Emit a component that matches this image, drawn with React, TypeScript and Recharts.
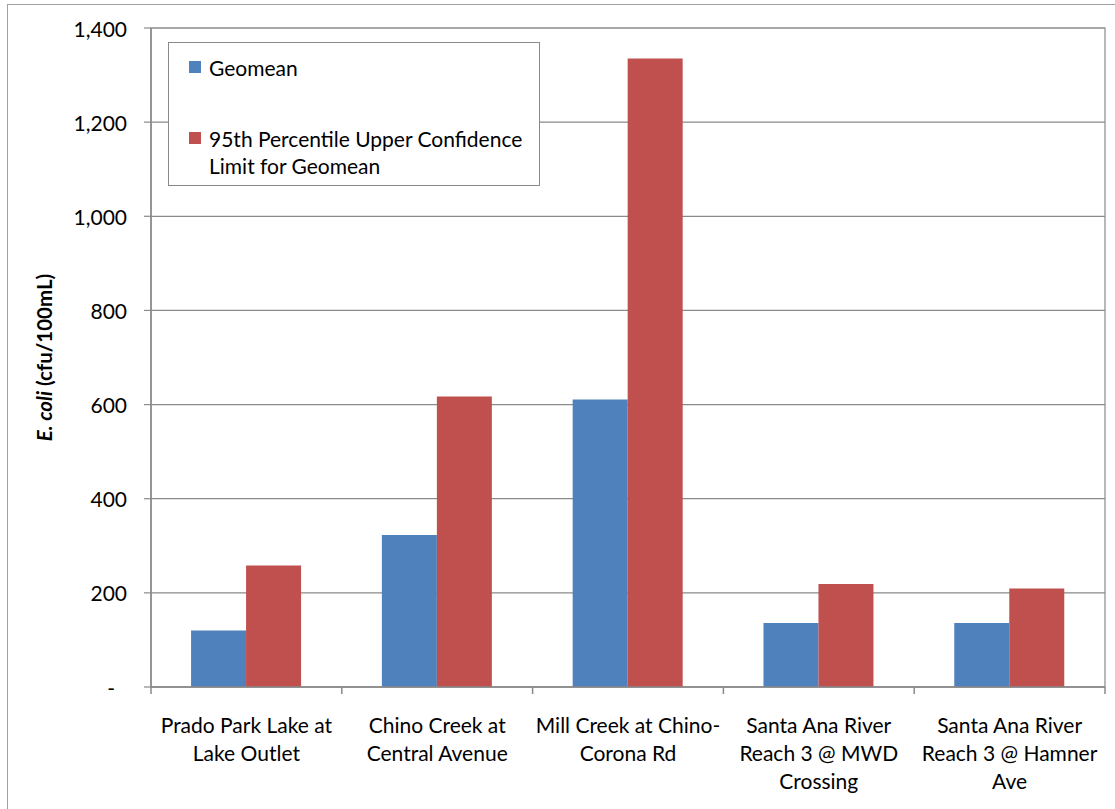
import React from 'react'
import { BarChart, Bar, XAxis, YAxis, CartesianGrid, Legend, ReferenceArea } from 'recharts'

const categories = [
  'Prado Park Lake at Lake Outlet',
  'Chino Creek at Central Avenue',
  'Mill Creek at Chino-Corona Rd',
  'Santa Ana River Reach 3 @ MWD Crossing',
  'Santa Ana River Reach 3 @ Hamner Ave',
]
// how the category labels wrap under the axis
const categoryLines = [
  ['Prado Park Lake at', 'Lake Outlet'],
  ['Chino Creek at', 'Central Avenue'],
  ['Mill Creek at Chino-', 'Corona Rd'],
  ['Santa Ana River', 'Reach 3 @ MWD', 'Crossing'],
  ['Santa Ana River', 'Reach 3 @ Hamner', 'Ave'],
]
const geomean = [120, 323, 611, 136, 136]
const ucl = [258, 617, 1335, 219, 209]
const yTicks = [0, 200, 400, 600, 800, 1000, 1200, 1400]
const seriesNames = ['Geomean', '95th Percentile Upper Confidence Limit for Geomean']
const legendLines = [['Geomean'], ['95th Percentile Upper Confidence', 'Limit for Geomean']]

const data = categories.map((c, i) => ({ name: c, geo: geomean[i], ucl: ucl[i] }))

const W = 1115
const H = 809
const FONT = 'Lato, "Open Sans", sans-serif'
const FS = 21
const GRAY = '#8a8a8a'
const BLUE = '#4F81BD'
const RED = '#C0504D'

const YTick = (props: any) => {
  const { x, y, payload } = props
  const v = payload.value
  return (
    <text x={v === 0 ? x - 12 : x} y={y} textAnchor="end" dominantBaseline="central"
      fontFamily={FONT} fontSize={FS} fill="#000">
      {v === 0 ? '-' : v.toLocaleString('en-US')}
    </text>
  )
}

const CatTick = (props: any) => {
  const { x, y, index, width, visibleTicksCount } = props
  const n = visibleTicksCount || categories.length
  const band = (width || (W - 161)) / n
  const lines = categoryLines[index] || []
  return (
    <g>
      <line x1={x - band / 2} x2={x - band / 2} y1={y - 7} y2={y} stroke={GRAY} strokeWidth={1.5} />
      {index === n - 1 && (
        <line x1={x + band / 2} x2={x + band / 2} y1={y - 7} y2={y} stroke={GRAY} strokeWidth={1.5} />
      )}
      {lines.map((l, i) => (
        <text key={i} x={x} y={y + 30 + i * 28} textAnchor="middle" dominantBaseline="central"
          fontFamily={FONT} fontSize={FS} fill="#000">{l}</text>
      ))}
    </g>
  )
}

const YLabel = (props: any) => {
  const vb = props.viewBox || { y: 28, height: 659 }
  const cy = vb.y + vb.height / 2
  const cx = 44
  return (
    <text x={cx} y={cy} transform={`rotate(-90, ${cx}, ${cy})`} textAnchor="middle"
      dominantBaseline="central" fontFamily={FONT} fontSize={20.5} fontWeight="bold" fill="#000">
      <tspan fontStyle="italic">E. coli</tspan> (cfu/100mL)
    </text>
  )
}

const LegendBox = (props: any) => {
  const items = [...(props.payload || [])].sort(
    (a: any, b: any) => seriesNames.indexOf(a.value) - seriesNames.indexOf(b.value))
  const tops = [10.5, 81.5]
  return (
    <div style={{
      position: 'relative', width: 372, height: 144, boxSizing: 'border-box',
      border: `1px solid ${GRAY}`, background: '#fff', fontFamily: FONT, fontSize: FS, color: '#000',
    }}>
      {items.map((it: any, i: number) => (
        <div key={it.value} style={{ position: 'absolute', left: 20, top: tops[i], lineHeight: '27px' }}>
          <span style={{
            position: 'absolute', left: 0, top: 7.5, width: 12, height: 12, background: it.color,
          }} />
          <div style={{ marginLeft: 20, whiteSpace: 'nowrap' }}>
            {(legendLines[seriesNames.indexOf(it.value)] || [it.value]).map((l, j) => <div key={j}>{l}</div>)}
          </div>
        </div>
      ))}
    </div>
  )
}

export default function App() {
  return (
    <div style={{ position: 'absolute', left: 0, top: 0, width: W, height: H, overflow: 'hidden', background: '#fff' }}>
      <div style={{
        position: 'absolute', left: 7, top: 4, width: W + 20, height: H + 20,
        border: '1.5px solid #a0a0a0',
      }} />
      <div style={{ position: 'absolute', left: 0, top: 0 }}>
        <BarChart width={W} height={H} data={data}
          margin={{ top: 28, right: 10, bottom: 22, left: 71 }}
          barCategoryGap="21%" barGap={0}>
          <CartesianGrid vertical={false} stroke={GRAY} strokeWidth={1.2} />
          <XAxis dataKey="name" height={100} tickLine={false} tickSize={7} tickMargin={0}
            axisLine={{ stroke: GRAY, strokeWidth: 1.5 }} tick={<CatTick />} interval={0} />
          <YAxis domain={[0, 1400]} ticks={yTicks} width={80} tickSize={7} tickMargin={17}
            axisLine={{ stroke: GRAY, strokeWidth: 1.5 }} tickLine={{ stroke: GRAY, strokeWidth: 1.2 }}
            tick={<YTick />} label={{ content: <YLabel /> }} />
          <ReferenceArea y1={0} y2={1400} fill="none" stroke={GRAY} strokeWidth={1.2} ifOverflow="visible" />
          <Legend layout="vertical" align="center" verticalAlign="middle" content={<LegendBox />}
            wrapperStyle={{ left: 168, top: 42, width: 372, height: 144 }} />
          <Bar dataKey="geo" name={seriesNames[0]} fill={BLUE} isAnimationActive={false} />
          <Bar dataKey="ucl" name={seriesNames[1]} fill={RED} isAnimationActive={false} />
        </BarChart>
      </div>
    </div>
  )
}
